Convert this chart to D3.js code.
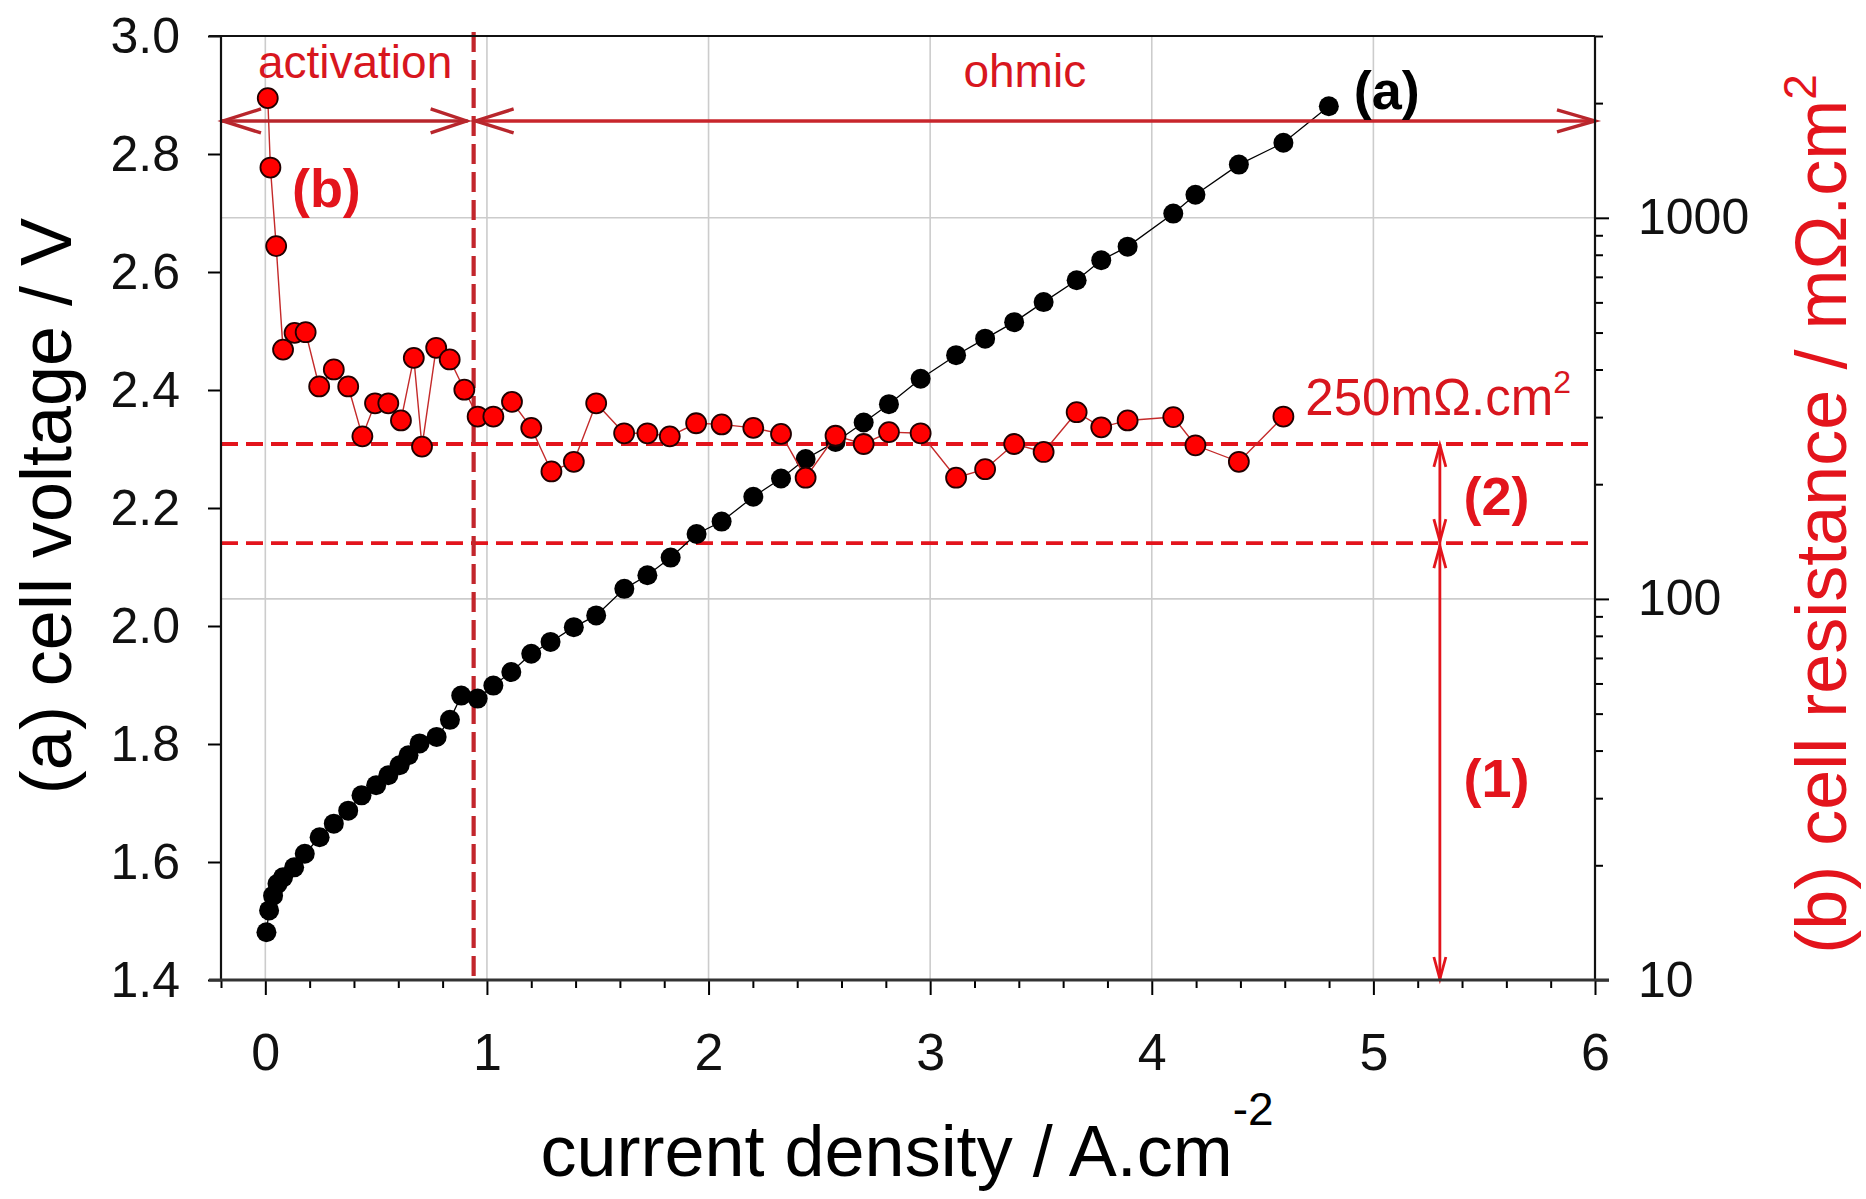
<!DOCTYPE html>
<html><head><meta charset="utf-8">
<script src="https://cdn.jsdelivr.net/npm/d3@7"></script>
<style>
html,body{margin:0;padding:0;background:#fff;}
svg{display:block;}
text{font-family:"Liberation Sans", Arial, Helvetica, sans-serif;}
</style></head><body>
<svg id="chart" width="1866" height="1199"></svg>
<script>
// ---- data ----
const voltageCurrent = [0.005,0.017,0.035,0.055,0.08,0.13,0.178,0.245,0.309,0.374,0.434,0.50,0.555,0.606,0.646,0.696,0.773,0.833,0.884,0.958,1.029,1.11,1.2,1.287,1.392,1.493,1.62,1.724,1.829,1.946,2.059,2.202,2.327,2.438,2.573,2.70,2.814,2.957,3.117,3.248,3.379,3.512,3.661,3.772,3.891,4.097,4.197,4.393,4.594,4.799];
const voltage = [1.481,1.518,1.543,1.563,1.574,1.591,1.614,1.642,1.665,1.687,1.713,1.730,1.747,1.764,1.781,1.801,1.812,1.841,1.882,1.877,1.899,1.922,1.953,1.973,1.998,2.018,2.063,2.086,2.116,2.156,2.177,2.219,2.250,2.283,2.312,2.345,2.376,2.419,2.459,2.487,2.515,2.549,2.586,2.620,2.643,2.699,2.731,2.782,2.819,2.881];
const resistanceCurrent = [0.011,0.023,0.049,0.08,0.132,0.182,0.243,0.309,0.374,0.438,0.495,0.555,0.612,0.670,0.707,0.771,0.832,0.898,0.958,1.029,1.113,1.2,1.291,1.392,1.493,1.619,1.724,1.825,1.944,2.059,2.202,2.327,2.438,2.573,2.70,2.814,2.957,3.117,3.248,3.379,3.512,3.661,3.772,3.891,4.097,4.197,4.393,4.594];
const resistance = [2061,1355,843,451,499,501,361,400,361,267,326,326,294,429,251,456,425,354,301,301,329,281,216,229,326,272,272,267,289,287,281,271,208,268,255,274,272,208,219,255,243,309,282,294,300,253,229,301];
const xTicks = [0,1,2,3,4,5,6];
const voltageTicks = [1.4,1.6,1.8,2.0,2.2,2.4,2.6,2.8,3.0];
const resistanceTicks = [10,100,1000];
const resistanceMinorTicks = [20,30,40,50,60,70,80,90,200,300,400,500,600,700,800,900,2000,3000];
const resistanceRef = 255;      // "250 mΩ.cm²" dashed line
const resistanceLow = 140;      // lower dashed line
const activationLimit = 0.94;   // activation / ohmic boundary
const arrowCurrent = 5.3;       // vertical arrows (1), (2)
const regionArrowVoltage = 2.856;

// ---- scales ----
const L = 221, R = 1595, T = 36, B = 980;
const x = d3.scaleLinear().domain([-0.2, 6]).range([L, R]);
const yV = d3.scaleLinear().domain([1.4, 3.0]).range([B, T]);
const yR = d3.scaleLog().domain([10, 3000]).range([B, T]);

const svg = d3.select('#chart');
const RED = '#e3141c', DARKRED = '#c2262c';

// gridlines
svg.append('g').selectAll('line').data(xTicks.filter(d => d < 6)).join('line')
  .attr('x1', d => x(d)).attr('x2', d => x(d)).attr('y1', T).attr('y2', B)
  .attr('stroke', '#cccccc').attr('stroke-width', 1.6);
svg.append('g').selectAll('line').data([100, 1000]).join('line')
  .attr('x1', L).attr('x2', R).attr('y1', d => yR(d)).attr('y2', d => yR(d))
  .attr('stroke', '#cccccc').attr('stroke-width', 1.6);

// dashed reference lines
svg.append('g').selectAll('line').data([resistanceRef, resistanceLow]).join('line')
  .attr('x1', L).attr('x2', R).attr('y1', d => yR(d)).attr('y2', d => yR(d))
  .attr('stroke', RED).attr('stroke-width', 3.8).attr('stroke-dasharray', '17 8');
svg.append('line')
  .attr('x1', x(activationLimit)).attr('x2', x(activationLimit)).attr('y1', T - 4).attr('y2', B)
  .attr('stroke', DARKRED).attr('stroke-width', 4.2).attr('stroke-dasharray', '20 8');

// series (a) voltage
const vData = voltageCurrent.map((c, i) => [c, voltage[i]]);
svg.append('path').datum(vData)
  .attr('d', d3.line().x(d => x(d[0])).y(d => yV(d[1])))
  .attr('fill', 'none').attr('stroke', '#000').attr('stroke-width', 1.3);
svg.append('g').selectAll('circle').data(vData).join('circle')
  .attr('cx', d => x(d[0])).attr('cy', d => yV(d[1])).attr('r', 10)
  .attr('fill', '#000');

// series (b) resistance
const rData = resistanceCurrent.map((c, i) => [c, resistance[i]]);
svg.append('path').datum(rData)
  .attr('d', d3.line().x(d => x(d[0])).y(d => yR(d[1])))
  .attr('fill', 'none').attr('stroke', '#c42a2a').attr('stroke-width', 1.4);
svg.append('g').selectAll('circle').data(rData).join('circle')
  .attr('cx', d => x(d[0])).attr('cy', d => yR(d[1])).attr('r', 10)
  .attr('fill', '#ff0000').attr('stroke', '#200000').attr('stroke-width', 1.8);

// ---- region arrows ----
const ay = yV(regionArrowVoltage);
const arr = svg.append('g').attr('fill', 'none').attr('stroke', '#b8262c').attr('stroke-width', 3.4);
arr.append('line').attr('x1', L).attr('x2', x(activationLimit) - 6).attr('y1', ay).attr('y2', ay);
arr.append('line').attr('x1', x(activationLimit) + 2).attr('x2', R).attr('y1', ay).attr('y2', ay).attr('stroke', '#c8262c');
function chevron(g, tx, ty, dir, len, half) {
  g.append('path').attr('d', `M${tx + dir * len},${ty - half}L${tx},${ty}L${tx + dir * len},${ty + half}`);
}
chevron(arr, L + 2, ay, 1, 38, 12);
chevron(arr, x(activationLimit) - 7, ay, -1, 36, 12);
chevron(arr, x(activationLimit) + 2, ay, 1, 38, 12);
chevron(arr, R, ay, -1, 38, 11);

// vertical double arrows
const ax = x(arrowCurrent);
const va = svg.append('g').attr('fill', 'none').attr('stroke', RED).attr('stroke-width', 2.8);
va.append('line').attr('x1', ax).attr('x2', ax).attr('y1', yR(resistanceRef)).attr('y2', yR(resistanceLow));
va.append('line').attr('x1', ax).attr('x2', ax).attr('y1', yR(resistanceLow)).attr('y2', B);
function vchev(ty, dir) {
  va.append('path').attr('d', `M${ax - 6},${ty + dir * 22}L${ax},${ty}L${ax + 6},${ty + dir * 22}`);
}
vchev(yR(resistanceRef) + 1, 1);
vchev(yR(resistanceLow) - 2, -1);
vchev(yR(resistanceLow) + 3, 1);
vchev(B - 1, -1);

// ---- axes ----
function styleAxis(g, size) {
  g.selectAll('.tick line').attr('stroke', '#000').attr('stroke-width', 2);
  g.selectAll('.tick text').attr('font-size', size).attr('fill', '#111')
    .attr('font-family', '"Liberation Sans", Arial, sans-serif');
  g.select('.domain').remove();
}
const gL = svg.append('g').attr('transform', `translate(${L},0)`)
  .call(d3.axisLeft(yV).tickValues(voltageTicks).tickFormat(d3.format('.1f')).tickSize(13).tickPadding(28).tickSizeOuter(0));
styleAxis(gL, 50);

const gB = svg.append('g').attr('transform', `translate(0,${B})`)
  .call(d3.axisBottom(x).tickValues(xTicks).tickFormat(d3.format('d')).tickSize(15).tickPadding(38).tickSizeOuter(0));
styleAxis(gB, 52);
const xMinor = d3.range(-1, 31).filter(i => i % 5 !== 0).map(i => i * 0.2);
const gBm = svg.append('g').attr('transform', `translate(0,${B})`)
  .call(d3.axisBottom(x).tickValues(xMinor).tickFormat('').tickSize(8).tickSizeOuter(0));
styleAxis(gBm, 10);

const gR = svg.append('g').attr('transform', `translate(${R},0)`)
  .call(d3.axisRight(yR).tickValues(resistanceTicks).tickFormat(d3.format('d')).tickSize(14).tickPadding(29).tickSizeOuter(0));
styleAxis(gR, 50);
const gRm = svg.append('g').attr('transform', `translate(${R},0)`)
  .call(d3.axisRight(yR).tickValues(resistanceMinorTicks).tickFormat('').tickSize(8).tickSizeOuter(0));
styleAxis(gRm, 10);

// frame
const fr = svg.append('g').attr('stroke', '#111');
fr.append('line').attr('x1', L - 12).attr('x2', R).attr('y1', T).attr('y2', T).attr('stroke-width', 2.2);
fr.append('line').attr('x1', L).attr('x2', L).attr('y1', T).attr('y2', B).attr('stroke-width', 2.2);
fr.append('line').attr('x1', R).attr('x2', R).attr('y1', T).attr('y2', B).attr('stroke-width', 2.2);
fr.append('line').attr('x1', L - 12).attr('x2', R + 14).attr('y1', B).attr('y2', B).attr('stroke-width', 3).attr('stroke', '#333');

// ---- axis titles ----
const xt = svg.append('text').attr('x', 907).attr('y', 1176).attr('text-anchor', 'middle')
  .attr('font-size', 72).attr('fill', '#000');
xt.append('tspan').text('current density / A.cm');
xt.append('tspan').text('-2').attr('font-size', 46).attr('dy', -51);

svg.append('text').attr('transform', 'translate(71,506) rotate(-90)').attr('text-anchor', 'middle')
  .attr('font-size', 72).attr('fill', '#000').text('(a) cell voltage / V');

const rt = svg.append('text').attr('transform', 'translate(1846,514) rotate(-90)').attr('text-anchor', 'middle')
  .attr('font-size', 72).attr('fill', RED);
rt.append('tspan').text('(b) cell resistance / mΩ.cm');
rt.append('tspan').text('2').attr('font-size', 46).attr('dy', -30);

// ---- annotations ----
svg.append('text').attr('x', x(0.405)).attr('y', yV(2.928)).attr('text-anchor', 'middle')
  .attr('font-size', 46).attr('fill', '#d8161e').text('activation');
svg.append('text').attr('x', x(3.427)).attr('y', yV(2.914)).attr('text-anchor', 'middle')
  .attr('font-size', 46).attr('fill', '#d8161e').text('ohmic');
const rl = svg.append('text').attr('x', x(4.693)).attr('y', yV(2.357))
  .attr('font-size', 51).attr('fill', '#d8161e');
rl.append('tspan').text('250mΩ.cm');
rl.append('tspan').text('2').attr('font-size', 32).attr('dy', -22);

svg.append('text').attr('x', x(4.911)).attr('y', yV(2.877)).attr('font-size', 54)
  .attr('font-weight', 'bold').attr('fill', '#000').text('(a)');
svg.append('text').attr('x', x(0.12)).attr('y', yV(2.711)).attr('font-size', 54)
  .attr('font-weight', 'bold').attr('fill', RED).text('(b)');
svg.append('text').attr('x', x(5.407)).attr('y', yV(2.188)).attr('font-size', 54)
  .attr('font-weight', 'bold').attr('fill', RED).text('(2)');
svg.append('text').attr('x', x(5.407)).attr('y', yV(1.710)).attr('font-size', 54)
  .attr('font-weight', 'bold').attr('fill', RED).text('(1)');
</script>
</body></html>
